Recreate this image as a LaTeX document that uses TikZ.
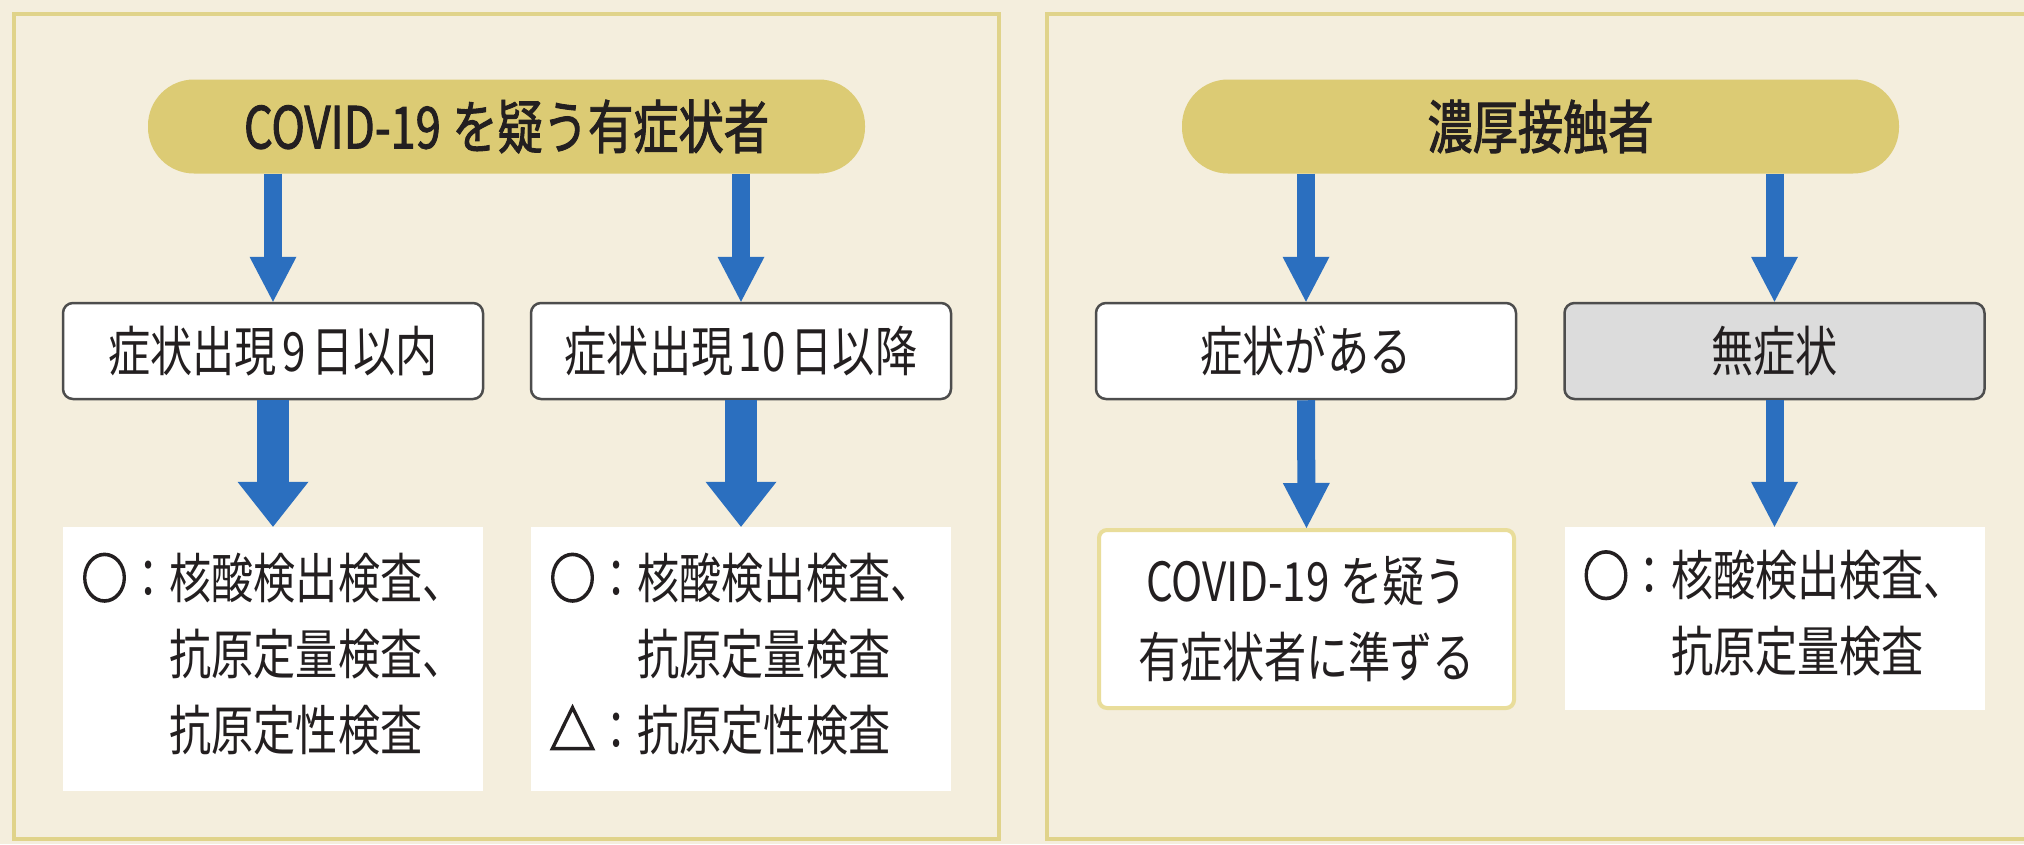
\documentclass[tikz,border=0pt]{standalone}
\usepackage{fontspec}
\setmainfont{Noto Sans CJK JP}[FakeStretch=0.78]
\newfontfamily\titlefont{Noto Sans CJK JP}[FakeStretch=0.78, FakeBold=1.6]
\newfontfamily\symfont{Noto Sans CJK JP}[FakeStretch=0.85, FakeBold=3]
\newcommand{\mkcirc}{{\symfont ○}}
\newcommand{\mktri}{{\symfont △}}
\usetikzlibrary{arrows.meta}
\definecolor{cream}{HTML}{F4EEDD}
\definecolor{panelline}{HTML}{E0D38A}
\definecolor{pillc}{HTML}{DCCB74}
\definecolor{arrowblue}{HTML}{2B6FBF}
\definecolor{boxline}{HTML}{4D4D4D}
\definecolor{graybox}{HTML}{DCDCDC}
\definecolor{ybord}{HTML}{E9DD9A}
\definecolor{txt}{HTML}{231F20}
\tikzset{
  pill/.style={fill=pillc, rounded corners=46pt, minimum width=717pt, minimum height=94pt, inner sep=0pt, text=txt, font=\fontsize{58}{70}\selectfont\titlefont},
  stagebox/.style={draw=boxline, line width=2.5pt, fill=white, rounded corners=10pt, minimum width=420pt, minimum height=96pt, inner sep=0pt, text=txt, font=\fontsize{54}{76}\selectfont},
  resultbox/.style={fill=white, minimum width=420pt, inner sep=0pt, text=txt, align=left, font=\fontsize{54}{76}\selectfont},
  yellowbox/.style={draw=ybord, line width=4pt, fill=white, rounded corners=8pt, minimum width=415pt, inner sep=0pt, text=txt, align=center, font=\fontsize{54}{76}\selectfont},
  thinarrow/.style={draw=arrowblue, line width=18pt, -{Triangle[width=47pt,length=45pt,line width=0pt]}},
  thickarrow/.style={draw=arrowblue, line width=32pt, -{Triangle[width=71pt,length=45pt,line width=0pt]}},
  panel/.style={draw=panelline, line width=4pt}
}
\begin{document}
\begin{tikzpicture}[x=1pt,y=-1pt]
\fill[cream] (0,0) rectangle (2024,844);
\useasboundingbox (0,0) rectangle (2024,844);
\draw[panel] (14,14) rectangle (999,839);
\draw[panel] (1047,14) rectangle (2040,839);

\node[pill] (pL) at (506.5,126.5) {COVID-19\hspace{0.2em}を疑う有症状者};
\node[pill] (pR) at (1540.5,126.5) {濃厚接触者};

\node[stagebox] (a1) at (273,351) {症状出現\hspace{0.1em}9\hspace{0.1em}日以内};
\node[stagebox] (a2) at (741,351) {症状出現\hspace{0.1em}10\hspace{0.1em}日以降};
\node[stagebox] (b1) at (1306,351) {症状がある};
\node[stagebox, fill=graybox] (b2) at (1774.5,351) {無症状};

\node[resultbox, minimum height=264pt] (r1) at (273,659)
  {\begin{tabular}{@{}l@{}l@{}}\mkcirc：&核酸検出検査、\\&抗原定量検査、\\&抗原定性検査\end{tabular}};
\node[resultbox, minimum height=264pt] (r2) at (741,659)
  {\begin{tabular}{@{}l@{}l@{}}\mkcirc：&核酸検出検査、\\&抗原定量検査\\\mktri：&抗原定性検査\end{tabular}};
\node[yellowbox, minimum height=178pt] (r3) at (1306.5,619) {COVID-19\hspace{0.2em}を疑う\\有症状者に準ずる};
\node[resultbox, minimum height=183pt] (r4) at (1774.5,618.5)
  {\begin{tabular}{@{}l@{}l@{}}\mkcirc：&核酸検出検査、\\&抗原定量検査\end{tabular}};

\draw[thinarrow] (a1.north |- pL.south) -- (a1.north);
\draw[thinarrow] (a2.north |- pL.south) -- (a2.north);
\draw[thinarrow] (b1.north |- pR.south) -- (b1.north);
\draw[thinarrow] (b2.north |- pR.south) -- (b2.north);
\draw[thickarrow] (a1.south) -- (r1.north);
\draw[thickarrow] (a2.south) -- (r2.north);
\draw[thinarrow] (b1.south) -- (r3.north);
\draw[thinarrow] (b2.south) -- (r4.north);
\end{tikzpicture}
\end{document}
